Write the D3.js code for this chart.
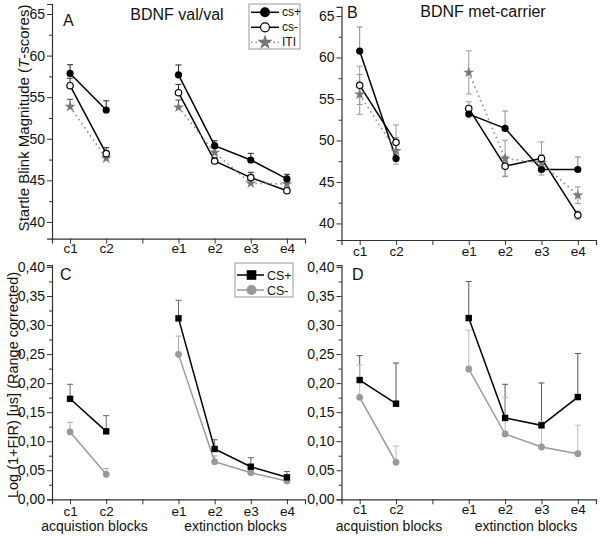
<!DOCTYPE html>
<html><head><meta charset="utf-8">
<script src="https://cdn.jsdelivr.net/npm/d3@7"></script>
<style>
body{margin:0;background:#fff}
svg{display:block}
text{font-family:"Liberation Sans",Arial,sans-serif;fill:#111}
</style>
</head><body>
<svg id="chart" width="600" height="538"></svg>
<script>
// ---------------- DATA ----------------
const categories = ["c1","c2","e1","e2","e3","e4"];
const xSlots = ["c1","c2","gap","e1","e2","e3","e4"];
const blinkTicks = [40,45,50,55,60,65];
const blinkMinor = [42.5,47.5,52.5,57.5,62.5];
const firTicks = [0,0.05,0.10,0.15,0.20,0.25,0.30,0.35,0.40];
const firMinor = [0.025,0.075,0.125,0.175,0.225,0.275,0.325,0.375];
const blockLabels = ["acquistion blocks","extinction blocks"];

// Panel A: BDNF val/val, startle T-scores
const valCsPlus    = [57.85,53.46,57.67,49.17,47.45,45.17];
const valCsPlusErr = [1.05,1.10,1.20,0.60,0.80,0.56];
const valCsMinus    = [56.38,48.21,55.54,47.33,45.33,43.76];
const valCsMinusErr = [0.90,0.72,1.00,0.40,0.64,0.30];
const valIti    = [53.86,47.66,53.79,48.33,44.65,44.57];
const valItiErr = [0.88,0.40,0.87,0.50,0.40,0.40];

// Panel B: BDNF met-carrier, startle T-scores
const metCsPlus    = [60.78,47.83,53.18,51.45,46.50,46.50];
const metCsPlusErr = [2.90,0.60,0.50,2.10,0.60,1.50];
const metCsMinus    = [56.64,49.77,53.86,46.90,47.83,41.00];
const metCsMinusErr = [2.30,2.10,0.80,1.20,2.00,0.50];
const metIti    = [55.55,48.75,58.20,47.83,47.30,43.40];
const metItiErr = [2.40,1.60,2.60,2.20,1.00,1.00];

// Panel C: val/val FIR
const valFirPlus    = [0.173,0.117,0.3115,0.0866,0.0561,0.0378];
const valFirPlusErr = [0.025,0.027,0.031,0.016,0.0155,0.010];
const valFirMinus    = [0.116,0.043,0.2495,0.0647,0.0458,0.0315];
const valFirMinusErr = [0.0165,0.010,0.0315,0.010,0.004,0.003];

// Panel D: met-carrier FIR
const metFirPlus    = [0.2053,0.1646,0.312,0.140,0.1273,0.176];
const metFirPlusErr = [0.042,0.070,0.063,0.058,0.073,0.075];
const metFirMinus    = [0.1755,0.0636,0.2243,0.1124,0.090,0.0785];
const metFirMinusErr = [0.056,0.028,0.067,0.063,0.044,0.049];

// ---------------- DRAW ----------------
const svg = d3.select("#chart");
const commaFmt = d => d3.format(".2f")(d).replace(".", ",");

function rows(vals, errs){ return categories.map((c,i)=>({c, v:vals[i], e:errs[i]})); }
const groups = [["c1","c2"],["e1","e2","e3","e4"]];

function drawPanel(cfg){
  const g = svg.append("g");
  const x = d3.scalePoint().domain(xSlots).range(cfg.xr).padding(0.5);
  const y = d3.scaleLinear().domain(cfg.yd).range(cfg.yr);

  // axes
  const xa = g.append("g").attr("transform",`translate(0,${cfg.yr[0]})`)
    .call(d3.axisBottom(x).tickSize(5).tickFormat(d=>d==="gap"?"":d));
  const ya = g.append("g").attr("transform",`translate(${cfg.xr[0]},0)`)
    .call(d3.axisLeft(y).tickValues(cfg.ticks).tickSize(5).tickPadding(2).tickFormat(cfg.fmt));
  const ym = g.append("g").attr("transform",`translate(${cfg.xr[0]},0)`)
    .call(d3.axisLeft(y).tickValues(cfg.minor).tickSize(3).tickFormat(""));
  ym.select(".domain").remove();
  [xa,ya,ym].forEach(a=>{
    a.select(".domain").attr("stroke","#333").attr("stroke-width",1.2);
    a.selectAll(".tick line").attr("stroke","#333").attr("stroke-width",1);
    a.selectAll(".tick text").attr("font-size",14).attr("fill","#111")
      .style("font-family",'"Liberation Sans",Arial,sans-serif');
  });
  xa.selectAll(".tick text").attr("dy",0).attr("y",cfg.xLabOff).attr("font-size",13.5);

  // error bars
  cfg.series.forEach(s=>{
    const eg = g.append("g");
    s.data.forEach(d=>{
      const cx = x(d.c);
      const top = y(d.v + d.e);
      const bot = s.sym ? y(d.v - d.e) : y(d.v);
      eg.append("line").attr("x1",cx).attr("x2",cx).attr("y1",top).attr("y2",bot)
        .attr("stroke",s.errColor).attr("stroke-width",1);
      eg.append("line").attr("x1",cx-3).attr("x2",cx+3).attr("y1",top).attr("y2",top)
        .attr("stroke",s.errColor).attr("stroke-width",1);
      if (s.sym){
        eg.append("line").attr("x1",cx-3).attr("x2",cx+3).attr("y1",bot).attr("y2",bot)
          .attr("stroke",s.errColor).attr("stroke-width",1);
      }
    });
  });
  // lines
  const line = d3.line().x(d=>x(d.c)).y(d=>y(d.v));
  cfg.series.forEach(s=>{
    groups.forEach(grp=>{
      g.append("path").datum(s.data.filter(d=>grp.includes(d.c)))
        .attr("d",line).attr("fill","none")
        .attr("stroke",s.lineColor).attr("stroke-width",s.dash?1.6:1.5)
        .attr("stroke-dasharray",s.dash||null);
    });
  });
  // markers
  cfg.series.slice().reverse().forEach(s=>{
    s.data.forEach(d=>drawMarker(g, s.marker, x(d.c), y(d.v), 1));
  });

  // texts
  g.append("text").attr("x",cfg.label[0]).attr("y",cfg.label[1]).attr("font-size",16).text(cfg.labelText);
  if (cfg.title) g.append("text").attr("x",cfg.title[0]).attr("y",cfg.title[1])
      .attr("text-anchor","middle").attr("font-size",16).text(cfg.titleText);
  if (cfg.blocks){
    const xb = [cfg.blocks[0], cfg.blocks[1]];
    blockLabels.forEach((t,i)=>g.append("text").attr("x",xb[i]).attr("y",cfg.blocks[2])
      .attr("text-anchor","middle").attr("font-size",14).text(t));
  }
  return g;
}

function drawMarker(g, m, cx, cy, k){
  if (m==="filled") g.append("circle").attr("cx",cx).attr("cy",cy).attr("r",3.6*k).attr("fill","#000");
  else if (m==="open") g.append("circle").attr("cx",cx).attr("cy",cy).attr("r",3.2*k)
      .attr("fill","#fff").attr("stroke","#000").attr("stroke-width",1.2);
  else if (m==="star") g.append("path").attr("transform",`translate(${cx},${cy})`)
      .attr("d",d3.symbol().type(d3.symbolStar).size(38*k*k)()).attr("fill","#777");
  else if (m==="square") g.append("rect").attr("x",cx-3.2*k).attr("y",cy-3.2*k)
      .attr("width",6.4*k).attr("height",6.4*k).attr("fill","#000");
  else if (m==="gray") g.append("circle").attr("cx",cx).attr("cy",cy).attr("r",3.4*k).attr("fill","#999");
}

// Panel A
drawPanel({
  xr:[52,305], yd:[38,66.2], yr:[238.6,4], ticks:blinkTicks, minor:blinkMinor, fmt:d3.format("d"),
  xLabOff:14,
  label:[63,26], labelText:"A", title:[177,20], titleText:"BDNF val/val",
  series:[
    {data:rows(valCsPlus,valCsPlusErr), marker:"filled", lineColor:"#000", errColor:"#222"},
    {data:rows(valCsMinus,valCsMinusErr), marker:"open", lineColor:"#000", errColor:"#222"},
    {data:rows(valIti,valItiErr), marker:"star", lineColor:"#888", errColor:"#444", dash:"1.5,3.5"}
  ]
});
// Panel B
drawPanel({
  xr:[341.5,596], yd:[38,66.1], yr:[240,6.9], ticks:blinkTicks, minor:blinkMinor, fmt:d3.format("d"),
  xLabOff:15.5,
  label:[347,18], labelText:"B", title:[483,17], titleText:"BDNF met-carrier",
  series:[
    {data:rows(metCsPlus,metCsPlusErr), marker:"filled", lineColor:"#000", errColor:"#888"},
    {data:rows(metCsMinus,metCsMinusErr), marker:"open", lineColor:"#000", errColor:"#999", sym:true},
    {data:rows(metIti,metItiErr), marker:"star", lineColor:"#888", errColor:"#999", dash:"1.5,3.5", sym:true}
  ]
});
// Panel C
drawPanel({
  xr:[52,305], yd:[0,0.403], yr:[499.3,265.2], ticks:firTicks, minor:firMinor, fmt:commaFmt,
  xLabOff:17,
  label:[60,280], labelText:"C", blocks:[94.5,235.5,531],
  series:[
    {data:rows(valFirPlus,valFirPlusErr), marker:"square", lineColor:"#000", errColor:"#666"},
    {data:rows(valFirMinus,valFirMinusErr), marker:"gray", lineColor:"#999", errColor:"#aaa"}
  ]
});
// Panel D
drawPanel({
  xr:[341.5,596], yd:[0,0.403], yr:[499.3,265.2], ticks:firTicks, minor:firMinor, fmt:commaFmt,
  xLabOff:15,
  label:[352,280], labelText:"D", blocks:[389,526,530.5],
  series:[
    {data:rows(metFirPlus,metFirPlusErr), marker:"square", lineColor:"#000", errColor:"#555"},
    {data:rows(metFirMinus,metFirMinusErr), marker:"gray", lineColor:"#999", errColor:"#bbb"}
  ]
});

// Y axis titles
const t1 = svg.append("text").attr("transform","translate(29,118) rotate(-90)")
  .attr("text-anchor","middle").attr("font-size",15);
t1.append("tspan").text("Startle Blink Magnitude (");
t1.append("tspan").attr("font-style","italic").text("T");
t1.append("tspan").text("-scores)");
svg.append("text").attr("transform","translate(18,385) rotate(-90)")
  .attr("text-anchor","middle").attr("font-size",14.5).text("Log (1+FIR) [us] (Range corrected)");

// Legend A
const legA = svg.append("g");
legA.append("rect").attr("x",249).attr("y",4).attr("width",51).attr("height",45)
  .attr("fill","#fff").attr("stroke","#999").attr("stroke-width",1);
const legAItems = [
  {name:"cs+", marker:"filled", color:"#000"},
  {name:"cs-", marker:"open", color:"#000"},
  {name:"ITI", marker:"star", color:"#888", dash:"1.5,3"}
];
legAItems.forEach((it,i)=>{
  const yy = 12.3 + i*15;
  legA.append("line").attr("x1",251).attr("x2",279).attr("y1",yy).attr("y2",yy)
    .attr("stroke",it.color).attr("stroke-width",1.5).attr("stroke-dasharray",it.dash||null);
  drawMarker(legA, it.marker, 265, yy, 1.4);
  legA.append("text").attr("x",282).attr("y",yy+4).attr("font-size",12).text(it.name);
});
// Legend C
const legC = svg.append("g");
legC.append("rect").attr("x",235).attr("y",263).attr("width",58).attr("height",34)
  .attr("fill","#fff").attr("stroke","#999").attr("stroke-width",1);
const legCItems = [
  {name:"CS+", marker:"square", color:"#000"},
  {name:"CS-", marker:"gray", color:"#999"}
];
legCItems.forEach((it,i)=>{
  const yy = 275 + i*15;
  legC.append("line").attr("x1",237).attr("x2",264).attr("y1",yy).attr("y2",yy)
    .attr("stroke",it.color).attr("stroke-width",1.5);
  drawMarker(legC, it.marker, 251.5, yy, 1.5);
  legC.append("text").attr("x",267).attr("y",yy+4.5).attr("font-size",12.5).text(it.name);
});
</script>
</body></html>
